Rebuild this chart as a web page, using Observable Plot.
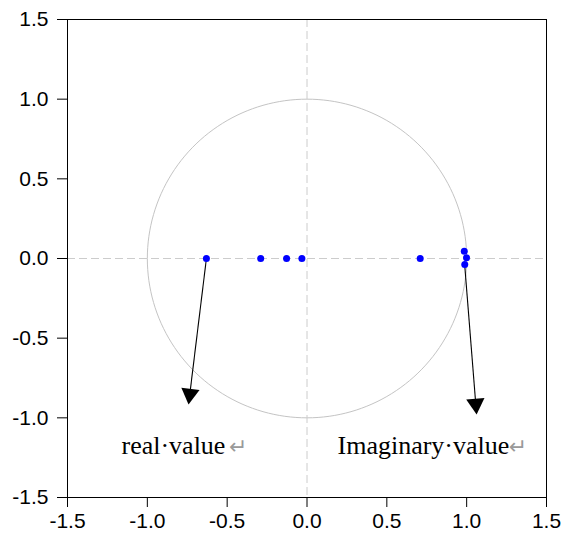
<!DOCTYPE html>
<html>
<head>
<meta charset="utf-8">
<script src="https://cdn.jsdelivr.net/npm/d3@7"></script>
<script src="https://cdn.jsdelivr.net/npm/@observablehq/plot@0.6"></script>
<style>
  html, body { margin: 0; padding: 0; background: #fff; }
</style>
</head>
<body>
<div id="chart"></div>
<script>
// Inverse roots (real, imaginary)
const realParts = [-0.63, -0.29, -0.128, -0.032, 0.709, 0.985, 0.999, 0.988];
const imagParts = [0, 0, 0, 0, 0, 0.046, 0.004, -0.038];

// Axis ticks
const tickValues = [-1.5, -1.0, -0.5, 0.0, 0.5, 1.0, 1.5];
const tickLabels = ["-1.5", "-1.0", "-0.5", "0.0", "0.5", "1.0", "1.5"];

// Annotations
const annotationTexts = ["real\u00B7value", "Imaginary\u00B7value"];
const annotationX = [-1.162, 0.191];
const annotationY = [-1.224, -1.224];
const returnMarkX = [-0.49, 1.262];
const arrowStartX = [-0.63, 0.988];
const arrowStartY = [0, -0.045];
const arrowEndX = [-0.734, 1.057];
const arrowEndY = [-0.851, -0.913];

const points = realParts.map((r, i) => ({re: r, im: imagParts[i]}));
const circle = d3.range(0, 361, 2).map(a => ({x: Math.cos(a * Math.PI / 180), y: Math.sin(a * Math.PI / 180)}));
const arrows = arrowStartX.map((x1, i) => {
  const dx = arrowEndX[i] - x1, dy = arrowEndY[i] - arrowStartY[i];
  const theta = Math.atan2(-dx, -dy) * 180 / Math.PI;
  return {x1, y1: arrowStartY[i], x2: arrowEndX[i], y2: arrowEndY[i], angle: 180 + theta};
});
const labels = annotationTexts.map((t, i) => ({t, x: annotationX[i], y: annotationY[i], rx: returnMarkX[i]}));
const fmt = d => tickLabels[tickValues.findIndex(v => Math.abs(v - d) < 1e-9)];

const tickFont = {fontFamily: "'Liberation Sans', Arial, sans-serif", fontSize: 21};

const chart = Plot.plot({
  width: 572,
  height: 544,
  marginLeft: 67,
  marginRight: 26,
  marginTop: 19,
  marginBottom: 47,
  style: {fontFamily: "'Liberation Sans', Arial, sans-serif", fontSize: "21px", color: "black", background: "white"},
  x: {domain: [-1.5, 1.5]},
  y: {domain: [-1.5, 1.5]},
  marks: [
    Plot.line(circle, {x: "x", y: "y", stroke: "#c4c4c4", strokeWidth: 1}),
    Plot.ruleX([0], {stroke: "#cccccc", strokeDasharray: "8,4", strokeWidth: 1}),
    Plot.ruleY([0], {stroke: "#cccccc", strokeDasharray: "8,4", strokeWidth: 1}),
    Plot.frame({stroke: "black", strokeWidth: 1}),
    Plot.axisX({ticks: tickValues, tickSize: 10, tickFormat: null, text: null, label: null, stroke: "black"}),
    Plot.axisY({ticks: tickValues, tickSize: 10, tickFormat: null, text: null, label: null, stroke: "black"}),
    Plot.text(tickValues, {x: d => d, frameAnchor: "bottom", text: fmt, dy: 30, ...tickFont, fill: "black"}),
    Plot.text(tickValues, {y: d => d, frameAnchor: "left", text: fmt, dx: -19, textAnchor: "end", ...tickFont, fill: "black"}),
    Plot.link(arrows, {x1: "x1", y1: "y1", x2: "x2", y2: "y2", stroke: "black", strokeWidth: 1.1}),
    Plot.dot(arrows, {x: "x2", y: "y2", symbol: "triangle", r: 6.8, fill: "black", stroke: "none", rotate: "angle"}),
    Plot.dot(points, {x: "re", y: "im", r: 3.5, fill: "#0000ff", stroke: "none"}),
    Plot.text(labels, {x: "x", y: "y", text: "t", textAnchor: "start", lineAnchor: "bottom", fontFamily: "'Liberation Serif', 'Times New Roman', serif", fontSize: 26, fill: "black"}),
    Plot.text(labels, {x: "rx", y: "y", text: () => "\u21B5", textAnchor: "start", lineAnchor: "bottom", fontFamily: "'DejaVu Sans', sans-serif", fontSize: 22, fill: "#9a9a9a"})
  ]
});
document.getElementById("chart").appendChild(chart);
</script>
</body>
</html>
